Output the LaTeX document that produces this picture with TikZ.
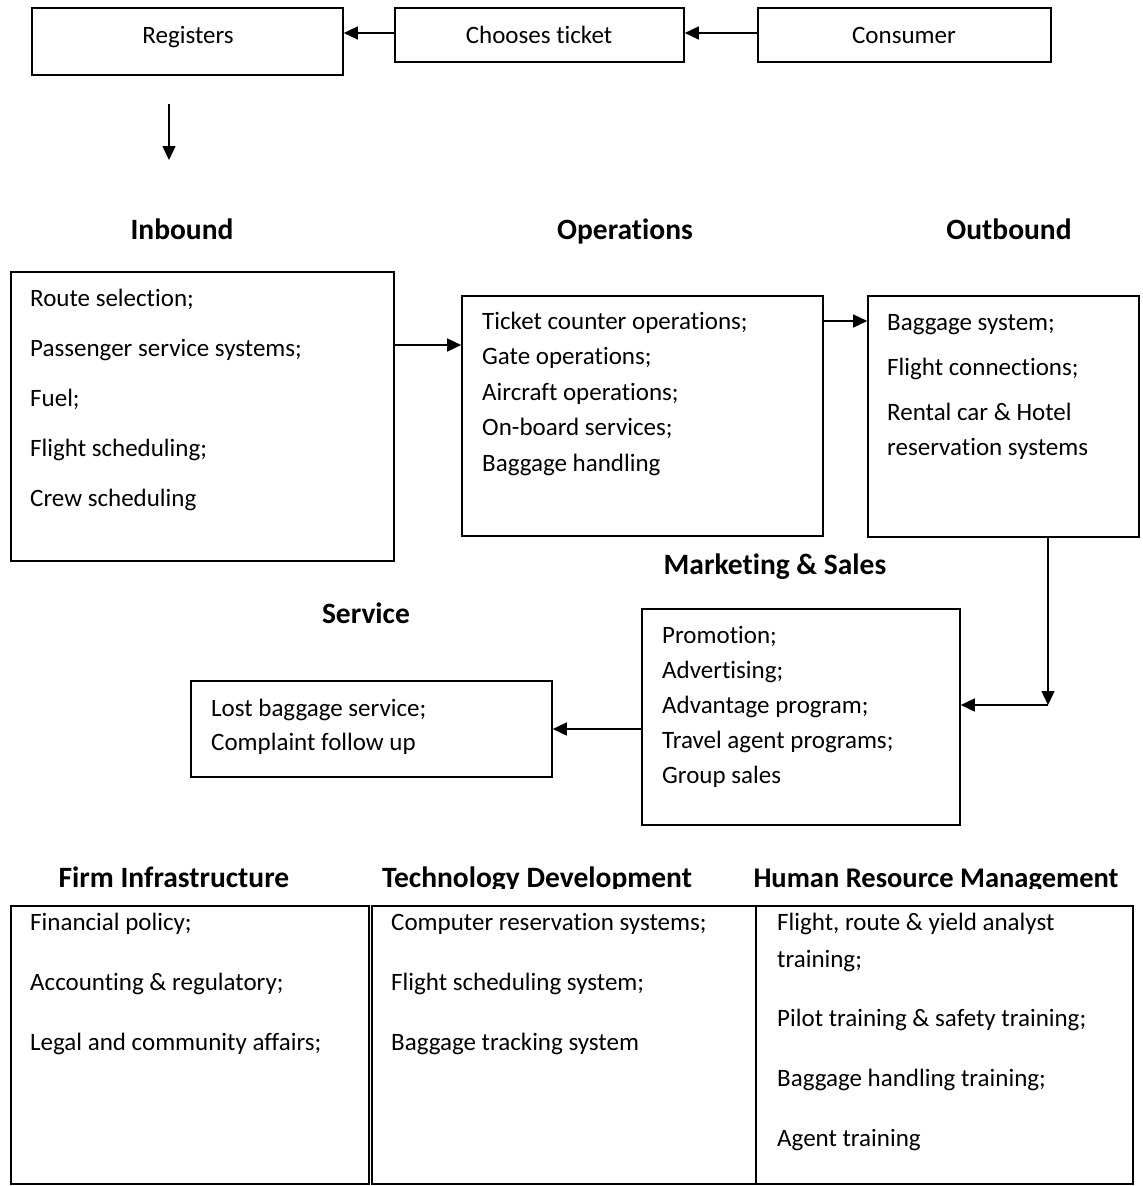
\documentclass[tikz,border=0pt]{standalone}
\usepackage{fontspec}
\setmainfont{Carlito}[Ligatures=NoCommon]
\usetikzlibrary{arrows.meta}
\newcommand\vlines[2]{\vtop{\baselineskip=#1\lineskiplimit=-100pt\lineskip=0pt #2}}
\begin{document}
\begin{tikzpicture}[x=1pt,y=-1pt,
  box/.style={draw,line width=1.6pt,inner sep=0pt},
  arr/.style={line width=1.4pt,-{Triangle[length=14pt,width=13pt]}},
  body/.style={inner sep=0pt,font=\fontsize{25}{35}\selectfont,anchor=base west},
  ctext/.style={inner sep=0pt,font=\fontsize{25}{35}\selectfont,anchor=base},
  hdr/.style={inner sep=0pt,font=\fontsize{29.5}{35}\selectfont\bfseries,anchor=base}]
\useasboundingbox (0,0) rectangle (1143,1186);

% top row
\node[box,minimum width=311pt,minimum height=67pt] (reg) at (187.5,41.5) {};
\node[box,minimum width=289pt,minimum height=54pt] (chs) at (539.5,35) {};
\node[box,minimum width=293pt,minimum height=54pt] (cons) at (904.5,35) {};
\node[ctext] (reg-t) at (188,43) {Registers};
\node[ctext] (chs-t) at (539,43) {Chooses ticket};
\node[ctext] (cons-t) at (904,43) {Consumer};
\draw[arr] ([yshift=2pt]cons.west) -- ([yshift=2pt]chs.east);
\draw[arr] ([yshift=2pt]chs.west) -- ([yshift=2pt]chs.west -| reg.east);
\coordinate (dA) at (169,104);
\coordinate (dB) at (169,160);
\draw[arr] (dA) -- (dB);

% primary activities headers
\node[hdr] (h-inb) at (182,239) {Inbound};
\node[hdr] (h-ops) at (625,239) {Operations};
\node[hdr] (h-out) at (1009,239) {Outbound};

% inbound
\node[box,minimum width=383pt,minimum height=289pt] (inb) at (202.5,416.5) {};
\node[body] (inb-t) at (30,306) {\vlines{50pt}{%
  \hbox{Route selection;}\hbox{Passenger service systems;}\hbox{Fuel;}%
  \hbox{Flight scheduling;}\hbox{Crew scheduling}}};

% operations
\node[box,minimum width=361pt,minimum height=240pt] (ops) at (642.5,416) {};
\node[body] (ops-t) at (482,329) {\vlines{35.5pt}{%
  \hbox{Ticket counter operations;}\hbox{Gate operations;}\hbox{Aircraft operations;}%
  \hbox{On-board services;}\hbox{Baggage handling}}};

% outbound
\node[box,minimum width=271pt,minimum height=241pt] (out) at (1003.5,416.5) {};
\node[body] (out-t) at (887,330) {\vlines{35pt}{%
  \hbox{Baggage system;}\vskip10pt\hbox{Flight connections;}\vskip10pt%
  \hbox{Rental car \& Hotel}\hbox{reservation systems}}};

\draw[arr] (inb.east |- 0,345) -- (ops.west |- 0,345);
\draw[arr] (ops.east |- 0,321) -- (out.west |- 0,321);

% marketing & sales
\node[hdr] (h-mkt) at (775,574) {Marketing \& Sales};
\node[box,minimum width=318pt,minimum height=216pt] (mkt) at (801,717) {};
\node[body] (mkt-t) at (662,643) {\vlines{35pt}{%
  \hbox{Promotion;}\hbox{Advertising;}\hbox{Advantage program;}%
  \hbox{Travel agent programs;}\hbox{Group sales}}};
\coordinate (bend) at (1048,705);
\draw[arr] (out.south -| bend) -- (bend);
\draw[arr] (bend) -- (mkt.east |- bend);

% service
\node[hdr] (h-svc) at (366,623) {Service};
\node[box,minimum width=361pt,minimum height=96pt] (svc) at (371.5,729) {};
\node[body] (svc-t) at (211,716) {\vlines{34pt}{%
  \hbox{Lost baggage service;}\hbox{Complaint follow up}}};
\draw[arr] (mkt.west |- svc.east) -- (svc.east);

% support activities
\begin{scope}
  \clip (0,840) rectangle (1143,888);
  \node[hdr] (h-fi) at (174,887) {Firm Infrastructure};
  \node[hdr] (h-td) at (537,887) {Technology Development};
  \node[hdr,font=\fontsize{28.5}{35}\selectfont\bfseries] (h-hr) at (936,887) {Human Resource Management};
\end{scope}
\node[box,minimum width=358pt,minimum height=278pt] (tc1) at (190,1045) {};
\node[box,minimum width=384pt,minimum height=278pt] (tc2) at (564,1045) {};
\node[box,minimum width=377pt,minimum height=278pt] (tc3) at (944.5,1045) {};
\node[body] (tc1-t) at (30,930) {\vlines{60pt}{%
  \hbox{Financial policy;}\hbox{Accounting \& regulatory;}\hbox{Legal and community affairs;}}};
\node[body] (tc2-t) at (391,930) {\vlines{60pt}{%
  \hbox{Computer reservation systems;}\hbox{Flight scheduling system;}\hbox{Baggage tracking system}}};
\node[body] (tc3-t) at (777,930) {\vlines{37pt}{%
  \hbox{Flight, route \& yield analyst}\hbox{training;}\vskip22pt%
  \hbox{Pilot training \& safety training;}\vskip23pt%
  \hbox{Baggage handling training;}\vskip23pt\hbox{Agent training}}};
\end{tikzpicture}
\end{document}
